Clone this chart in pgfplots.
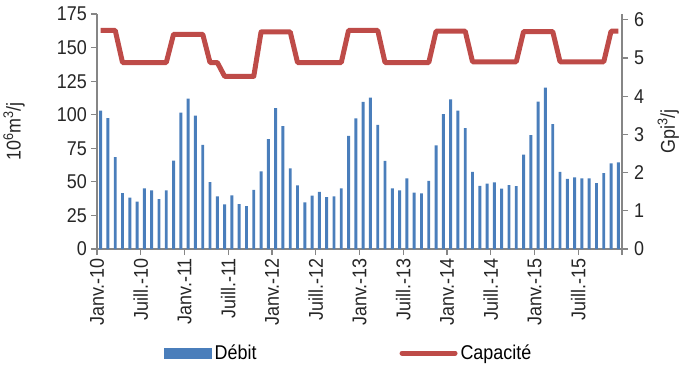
\documentclass[border=0pt]{standalone}
\usepackage{pgfplots}
\pgfplotsset{compat=1.18}
\usepackage{fontspec}
\setmainfont{Liberation Sans}[FakeStretch=0.9]
\definecolor{barblue}{HTML}{4A7EBB}
\definecolor{linered}{HTML}{BE4B48}
\definecolor{axgray}{HTML}{868686}
\pgfplotstableread{
x y
0.5 103.1
1.5 97.4
2.5 68.4
3.5 41.6
4.5 38.2
5.5 35.2
6.5 45.1
7.5 43.6
8.5 37.2
9.5 43.6
10.5 65.9
11.5 101.6
12.5 112
13.5 99.4
14.5 77.6
15.5 49.8
16.5 39.2
17.5 33.2
18.5 39.9
19.5 33.5
20.5 32
21.5 44.1
22.5 57.8
23.5 81.8
24.5 104.9
25.5 91.5
26.5 60
27.5 47.3
28.5 34.7
29.5 39.7
30.5 42.6
31.5 38.7
32.5 39.2
33.5 45.1
34.5 84.3
35.5 97.2
36.5 109.6
37.5 112.8
38.5 92.5
39.5 65.7
40.5 45.1
41.5 43.6
42.5 52.6
43.5 41.9
44.5 41.4
45.5 50.8
46.5 77.1
47.5 100.4
48.5 111.5
49.5 103.1
50.5 90
51.5 57.5
52.5 47.1
53.5 48.6
54.5 49.6
55.5 44.9
56.5 47.6
57.5 46.9
58.5 70.2
59.5 84.8
60.5 109.8
61.5 120.2
62.5 93
63.5 57.5
64.5 52.3
65.5 53.3
66.5 52.6
67.5 52.6
68.5 49.1
69.5 56.5
70.5 63.7
71.5 64.5
}\debit
\pgfplotstableread{
x y
0.5 5.72
2.5 5.72
3.5 4.88
9.5 4.88
10.5 5.62
14.5 5.62
15.5 4.88
16.5 4.88
17.5 4.52
21.5 4.52
22.5 5.68
26.5 5.68
27.5 4.88
33.5 4.88
34.5 5.72
38.5 5.72
39.5 4.88
45.5 4.88
46.5 5.70
50.5 5.70
51.5 4.90
57.5 4.90
58.5 5.69
62.5 5.69
63.5 4.90
69.5 4.90
70.5 5.70
71.5 5.70
}\capa
\begin{document}
\begin{tikzpicture}
\pgfplotsset{
  common/.style={
    scale only axis, width=525bp, height=235bp,
    xmin=0, xmax=72,
    tick align=outside,
    major tick length=6bp,
    tick style={axgray, line width=1.2bp},
    axis line style={-, draw=axgray, line width=1.5bp},
    tick label style={font=\fontsize{20}{22}\selectfont, text=black!85},
    label style={font=\fontsize{20}{22}\selectfont, text=black!85},
    /pgf/number format/assume math mode=true,
  }
}
\begin{axis}[common, name=main,
  ymin=0, ymax=175,
  axis x line*=bottom, axis y line*=left,
  ytick={0,25,...,175},
  xtick={0,6,...,72},
  xticklabels={Janv.-10,Juill.-10,Janv.-11,Juill.-11,Janv.-12,Juill.-12,Janv.-13,Juill.-13,Janv.-14,Juill.-14,Janv.-15,Juill.-15,},
  x tick label style={rotate=90, anchor=east, inner sep=3bp},
  y tick label style={inner sep=4bp},
  ylabel={10\textsuperscript{6}m\textsuperscript{3}/j},
  ylabel style={at={(axis description cs:-0.158,0.5)}, anchor=center},
  legend style={at={(0.48,-0.443)}, anchor=center, draw=none, fill=none,
    legend columns=2, font=\fontsize{20}{22}\selectfont,
    nodes={inner sep=3bp},
    /tikz/every even column/.append style={column sep=140bp}},
]
\addplot[ybar, bar width=2.9bp, fill=barblue, draw=none,
  legend image code/.code={\fill[barblue] (0bp,-5.5bp) rectangle (48bp,5.5bp);}]
  table[x=x,y=y] {\debit};
\addlegendentry{Débit}
\addlegendimage{legend image code/.code={\draw[linered, line width=5bp, line cap=round] (0bp,0bp) -- (53bp,0bp);}}
\addlegendentry{Capacité}
\end{axis}
\begin{axis}[common,
  ymin=0, ymax=6.15,
  axis x line=none, axis y line*=right,
  ytick={0,1,...,6},
  y tick label style={inner sep=6bp},
  ylabel={Gpi\textsuperscript{3}/j},
  ylabel style={at={(axis description cs:1.088,0.5)}, anchor=center, rotate=0},
]
\addplot[linered, line width=5bp, line join=round] table[x=x,y=y] {\capa};
\end{axis}
\pgfresetboundingbox
\path[use as bounding box] ([xshift=-97bp,yshift=-117bp]main.south west) rectangle ([xshift=63bp,yshift=14bp]main.north east);
\end{tikzpicture}
\end{document}
